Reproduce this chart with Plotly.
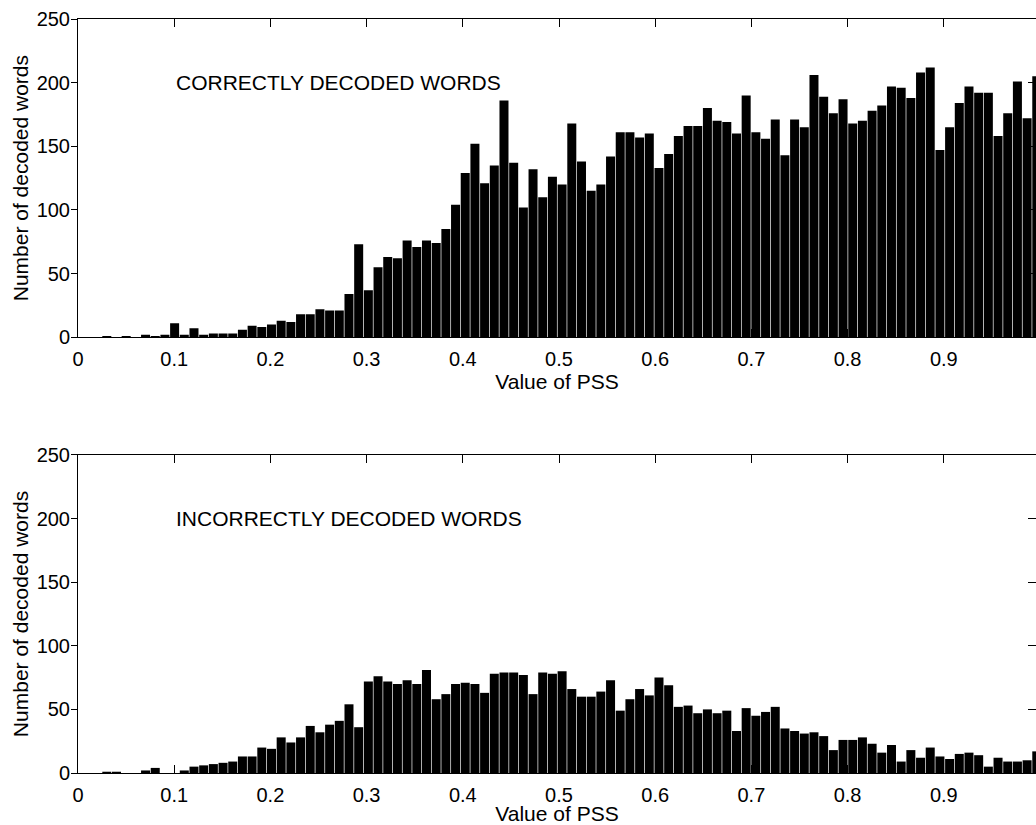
import plotly.graph_objects as go

# Histogram bins (value of PSS), regular bins
PSS_FIRST_CENTER = 0.0098
PSS_BIN_WIDTH = 0.01007
N_BINS = 99
pss_bins = [round(PSS_FIRST_CENTER + PSS_BIN_WIDTH * i, 5) for i in range(N_BINS)]

correct_counts = [
    0, 0, 1, 0, 1, 0, 2, 1, 2, 11,
    2, 7, 2, 3, 3, 3, 6, 9, 8, 10,
    13, 12, 18, 18, 22, 21, 21, 34, 73, 37,
    55, 63, 62, 76, 71, 76, 74, 85, 104, 129,
    152, 121, 135, 186, 137, 102, 132, 110, 126, 120,
    168, 138, 115, 120, 142, 161, 161, 157, 160, 133,
    144, 158, 166, 166, 180, 170, 169, 160, 190, 161,
    156, 171, 143, 171, 165, 206, 189, 176, 187, 168,
    170, 178, 182, 197, 196, 188, 208, 212, 147, 165,
    184, 197, 192, 192, 158, 176, 201, 172, 205,
]

incorrect_counts = [
    0, 0, 1, 1, 0, 0, 2, 4, 0, 0,
    2, 5, 6, 7, 8, 9, 13, 13, 20, 19,
    28, 24, 28, 37, 32, 38, 41, 54, 36, 72,
    76, 72, 70, 73, 70, 81, 58, 62, 70, 71,
    70, 63, 78, 79, 79, 77, 62, 79, 78, 80,
    66, 60, 60, 64, 73, 49, 58, 66, 61, 75,
    69, 52, 53, 47, 50, 47, 49, 33, 51, 45,
    48, 52, 35, 33, 31, 32, 29, 18, 26, 26,
    28, 23, 16, 22, 9, 18, 12, 20, 13, 11,
    15, 16, 14, 5, 12, 9, 9, 10, 17,
]

x_tickvals = [0, 0.1, 0.2, 0.3, 0.4, 0.5, 0.6, 0.7, 0.8, 0.9]
x_ticktext = ["0", "0.1", "0.2", "0.3", "0.4", "0.5", "0.6", "0.7", "0.8", "0.9"]
y_tickvals = [0, 50, 100, 150, 200, 250]
y_ticktext = ["0", "50", "100", "150", "200", "250"]

panel_labels = ["CORRECTLY DECODED WORDS", "INCORRECTLY DECODED WORDS"]
x_title = "Value of PSS"
y_title = "Number of decoded words"

FONT = "Liberation Sans, Arial, Helvetica, sans-serif"
TICK_SIZE = 20
TITLE_SIZE = 21

fig = go.Figure()
fig.add_trace(go.Bar(x=pss_bins, y=correct_counts, xaxis="x", yaxis="y",
                     marker=dict(color="black", line=dict(width=0)),
                     showlegend=False, hoverinfo="skip"))
fig.add_trace(go.Bar(x=pss_bins, y=incorrect_counts, xaxis="x2", yaxis="y2",
                     marker=dict(color="black", line=dict(width=0)),
                     showlegend=False, hoverinfo="skip"))
# invisible traces so the right-hand tick axes are drawn
fig.add_trace(go.Scatter(x=[None], y=[None], xaxis="x", yaxis="y3",
                         mode="markers", showlegend=False, hoverinfo="skip"))
fig.add_trace(go.Scatter(x=[None], y=[None], xaxis="x2", yaxis="y4",
                         mode="markers", showlegend=False, hoverinfo="skip"))

x_range = [0, 0.99584]
y_range = [0, 250]


def xaxis_cfg(anchor):
    return dict(
        anchor=anchor, domain=[0, 1], range=x_range,
        tickmode="array", tickvals=x_tickvals, ticktext=x_ticktext,
        ticks="inside", ticklen=8, tickwidth=1, tickcolor="black",
        ticklabelstandoff=4,
        showline=True, linecolor="black", linewidth=1, mirror="ticks",
        showgrid=False, zeroline=False,
        tickfont=dict(family=FONT, size=TICK_SIZE, color="black"),
        title=dict(text=x_title, font=dict(family=FONT, size=TITLE_SIZE, color="black"),
                   standoff=0),
    )


def yaxis_cfg(anchor, domain):
    return dict(
        anchor=anchor, domain=domain, range=y_range,
        tickmode="array", tickvals=y_tickvals, ticktext=y_ticktext,
        ticks="outside", ticklen=6, tickwidth=1, tickcolor="black",
        ticklabelstandoff=-3,
        showline=True, linecolor="black", linewidth=1, mirror=False,
        showgrid=False, zeroline=False,
        tickfont=dict(family=FONT, size=TICK_SIZE, color="black"),
        title=dict(text=y_title, font=dict(family=FONT, size=TITLE_SIZE, color="black"),
                   standoff=2),
    )


def right_ticks_cfg(over, anchor):
    return dict(
        overlaying=over, anchor=anchor, side="right", range=y_range,
        tickmode="array", tickvals=y_tickvals,
        ticks="inside", ticklen=8, tickwidth=1, tickcolor="black",
        showticklabels=False, showline=False, showgrid=False, zeroline=False,
    )


top_domain = [0.5779, 1.0]
bottom_domain = [0.0, 0.4218]

fig.update_layout(
    width=1036, height=825,
    margin=dict(l=78, r=0, t=19, b=52, autoexpand=False),
    paper_bgcolor="white", plot_bgcolor="white",
    bargap=0.07,
    hovermode=False,
    xaxis=xaxis_cfg("y"),
    yaxis=yaxis_cfg("x", top_domain),
    xaxis2=xaxis_cfg("y2"),
    yaxis2=yaxis_cfg("x2", bottom_domain),
    yaxis3=right_ticks_cfg("y", "x"),
    yaxis4=right_ticks_cfg("y2", "x2"),
    annotations=[
        dict(x=0.1, y=200, xref="x", yref="y", text=panel_labels[0],
             xanchor="left", yanchor="middle", showarrow=False,
             font=dict(family=FONT, size=TITLE_SIZE, color="black")),
        dict(x=0.1, y=200, xref="x2", yref="y2", text=panel_labels[1],
             xanchor="left", yanchor="middle", showarrow=False,
             font=dict(family=FONT, size=TITLE_SIZE, color="black")),
    ],
)

fig.write_html(
    "out.html",
    config={"displayModeBar": False, "staticPlot": True},
    post_script="document.body.style.margin='0';document.body.style.overflow='hidden';",
)
